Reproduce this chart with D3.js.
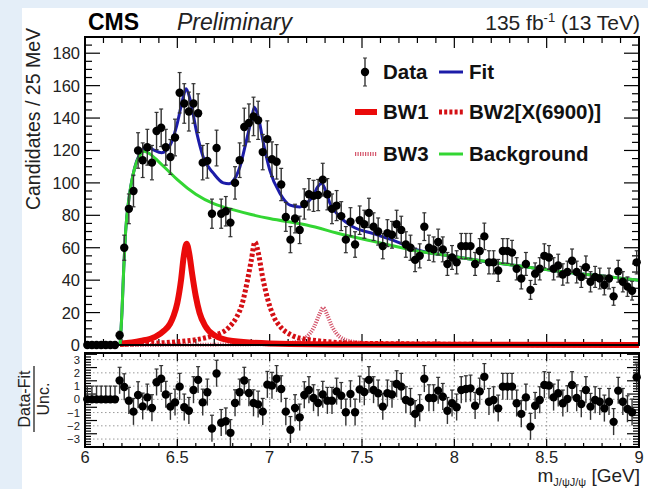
<!DOCTYPE html>
<html>
<head>
<meta charset="utf-8">
<script src="https://cdn.jsdelivr.net/npm/d3@7"></script>
<style>
  html, body { margin: 0; padding: 0; background: #e4eef8; }
  svg { display: block; font-family: "Liberation Sans", Arial, sans-serif; }
</style>
</head>
<body>
<svg id="chart" width="648" height="489"></svg>
<script>
// bin centres, 25 MeV bins from 6 to 9 GeV
const binCenters = d3.range(120).map(k => 6.0125 + 0.025 * k);

// candidates per bin
const counts = [
    0, 0, 0, 0, 0, 0, 0, 6, 60, 84,
    95, 120, 114, 122, 112.5, 132, 134, 122, 116, 128,
    155.6, 149, 144, 149, 143, 112.5, 113.6, 81, 121.5, 81,
    82.5, 75.5, 100, 114, 134.5, 137, 141, 138.6, 119, 127,
    114.6, 113, 99, 79, 65, 78, 71, 87, 93, 92,
    92.5, 102, 93, 84, 86, 79.5, 65, 76, 62, 77,
    74.5, 81.5, 73, 70, 61, 69, 68, 74.5, 71, 62,
    60, 52.5, 55, 73, 60, 59, 63.5, 59, 50, 54,
    51, 61, 61, 61, 50, 58, 67, 51, 51, 46,
    58, 58, 57, 47, 41, 50, 34, 44, 47, 55,
    54, 47, 49, 43.5, 45, 52, 45, 42, 48, 39,
    42, 41, 37, 41, 30, 45.5, 39, 36, 33.5, 51
];

// (data - fit) / unc. per bin
const pulls = [
    0, 0, 0, 0, 0, 0, 0, 1.42, 0.93, -0.1,
    -0.93, 0.33, -0.53, 0.15, -0.65, 1.29, 1.55, 0.36, -0.55, -0.23,
    0.96, -0.6, -0.86, 0.71, 1.47, -0.23, 0.53, -2.2, 1.95, -1.77,
    -1.65, -2.53, -0.28, 0.53, 1.42, 0.48, -0.28, -0.38, -0.93, 1.11,
    1.04, 1.55, 0.78, -0.93, -2.3, -0.65, -1.36, 0.33, 0.71, 0.1,
    -0.28, 0.36, -0.1, -0.1, 0.6, 0.27, -0.98, 0.4, -0.98, 0.75,
    0.55, 1.47, 0.71, 0.46, -0.55, 0.46, 0.36, 1.16, 0.96, -0.05,
    -0.18, -1.1, -0.65, 1.55, 0.1, 0.1, 0.66, 0.2, -0.86, -0.3,
    -0.6, 0.71, 0.78, 0.83, -0.48, 0.6, 1.7, -0.18, -0.05, -0.68,
    0.96, 0.96, 0.96, -0.3, -1.1, 0.15, -2.06, -0.48, -0.05, 1.09,
    1.04, 0.15, 0.46, -0.3, 0.03, 1.09, 0.1, -0.35, 0.71, -0.55,
    -0.05, -0.18, -0.68, -0.18, -1.7, 0.66, -0.18, -0.73, -0.98, 1.67
];

// curves: [mass, value]
const bkgCurve = [
    [6.19, 0], [6.2, 20], [6.21, 48], [6.22, 70], [6.24, 92], [6.26, 105], [6.28, 113],
    [6.3, 117.5], [6.32, 119.5], [6.35, 118], [6.4, 113], [6.45, 107.5], [6.5, 102],
    [6.6, 93], [6.7, 87], [6.8, 83.5], [6.9, 80.5], [7.0, 78], [7.2, 74], [7.4, 68],
    [7.6, 63], [7.8, 58], [8.0, 54.5], [8.2, 51], [8.4, 48], [8.6, 45], [8.8, 42.5], [9.0, 40]
];
const fitCurve = [
    [6.19, 0], [6.2, 20], [6.21, 48], [6.22, 70], [6.24, 92], [6.26, 105], [6.28, 113.5],
    [6.3, 118.5], [6.334, 122.5], [6.37, 120.4], [6.415, 118.6], [6.46, 123], [6.496, 135],
    [6.529, 151.5], [6.547, 158], [6.569, 151.5], [6.605, 131], [6.64, 116], [6.695, 106],
    [6.749, 100], [6.78, 99.5], [6.803, 101.4], [6.839, 110], [6.875, 126.6], [6.903, 140],
    [6.917, 146.7], [6.938, 141], [6.966, 124.6], [7.0, 108], [7.056, 93.5], [7.11, 86.3],
    [7.164, 85.2], [7.2, 87.3], [7.24, 93], [7.26, 97.5], [7.282, 99.8], [7.3, 96],
    [7.327, 87.3], [7.381, 79], [7.453, 72.8], [7.561, 68.7], [7.67, 64.5], [7.8, 58.6],
    [8.0, 54.6], [8.2, 51], [8.4, 48], [8.6, 45], [8.8, 42.5], [9.0, 40]
];
const bw1Curve = [
    [6.19, 0.8], [6.3, 2.5], [6.38, 5], [6.43, 9], [6.46, 13], [6.48, 18], [6.5, 26],
    [6.52, 40], [6.535, 55], [6.55, 62.5], [6.565, 56], [6.58, 44], [6.6, 30], [6.62, 20],
    [6.65, 12], [6.7, 6], [6.8, 2.5], [7.0, 1], [7.5, 0.3], [9.0, 0]
];
const bw2Curve = [
    [6.19, 0.5], [6.5, 2], [6.7, 6], [6.78, 11], [6.82, 17], [6.85, 25], [6.88, 40],
    [6.9, 52], [6.92, 63.5], [6.94, 56], [6.96, 43], [6.99, 28], [7.02, 18], [7.06, 11],
    [7.12, 6], [7.2, 3.5], [7.5, 1], [9.0, 0]
];
const bw3Curve = [
    [6.19, 0], [7.0, 0.5], [7.15, 2], [7.2, 5], [7.24, 11], [7.27, 19], [7.29, 23],
    [7.31, 19], [7.34, 11], [7.38, 5], [7.45, 2], [7.6, 0.5], [9.0, 0]
];

const xTicks = [6, 6.5, 7, 7.5, 8, 8.5, 9];
const yTopTicks = [0, 20, 40, 60, 80, 100, 120, 140, 160, 180];
const yBotTicks = [-3, -2, -1, 0, 1, 2, 3];

const svg = d3.select("#chart");
const font = "'Liberation Sans', Arial, sans-serif";

// white page area
svg.append("rect").attr("x", 22).attr("y", 8).attr("width", 626).attr("height", 481).attr("fill", "#fff");

const x = d3.scaleLinear().domain([6, 9]).range([85, 639]);
const yTop = d3.scaleLinear().domain([0, 190]).range([345, 37]);
const yBot = d3.scaleLinear().domain([-3.6, 3.5]).range([447, 353]);

// ---------- ticks (ROOT style, inside the frame) ----------
function xTicksFor(y0, y1, majLen, minLen) {
    const g = svg.append("g").attr("stroke", "#000").attr("stroke-width", 1.2);
    d3.range(6, 9.0001, 0.1).forEach(v => {
        const major = Math.abs(v * 2 - Math.round(v * 2)) < 1e-6;
        const len = major ? majLen : minLen;
        g.append("line").attr("x1", x(v)).attr("x2", x(v)).attr("y1", y0).attr("y2", y0 - len);
        g.append("line").attr("x1", x(v)).attr("x2", x(v)).attr("y1", y1).attr("y2", y1 + len);
    });
}
function yTicksFor(scale, lo, hi, step, majEvery, majLen, minLen) {
    const g = svg.append("g").attr("stroke", "#000").attr("stroke-width", 1.2);
    for (let i = 0; lo + i * step <= hi + 1e-9; i++) {
        const v = lo + i * step;
        const major = i % majEvery === 0;
        const len = major ? majLen : minLen;
        g.append("line").attr("x1", 85).attr("x2", 85 + len).attr("y1", scale(v)).attr("y2", scale(v));
        g.append("line").attr("x1", 639).attr("x2", 639 - len).attr("y1", scale(v)).attr("y2", scale(v));
    }
}

// lower panel grid
const grid = svg.append("g").attr("stroke", "#999").attr("stroke-width", 1).attr("stroke-dasharray", "1.5,2.5");
yBotTicks.forEach(v => grid.append("line").attr("x1", 85).attr("x2", 639).attr("y1", yBot(v)).attr("y2", yBot(v)));
xTicks.slice(1, -1).forEach(v => grid.append("line").attr("x1", x(v)).attr("x2", x(v)).attr("y1", 353).attr("y2", 447));

xTicksFor(345, 37, 11, 6);
yTicksFor(yTop, 0, 190, 5, 4, 15, 7);
xTicksFor(447, 353, 8, 4);
yTicksFor(yBot, -3.6, 3.5, 0.2, 5, 12, 6);

// ---------- curves ----------
const line = d3.line().x(d => x(d[0])).y(d => yTop(d[1])).curve(d3.curveMonotoneX);

const plot = svg.append("g");
plot.append("path").attr("d", line(bw3Curve)).attr("fill", "none")
    .attr("stroke", "#d4566c").attr("stroke-width", 4).attr("stroke-dasharray", "1.2,1.3");
plot.append("path").attr("d", line(bw2Curve)).attr("fill", "none")
    .attr("stroke", "#d40f14").attr("stroke-width", 5).attr("stroke-dasharray", "3,2.2");
plot.append("path").attr("d", line(bw1Curve)).attr("fill", "none")
    .attr("stroke", "#ea0a0a").attr("stroke-width", 6);
plot.append("path").attr("d", line(fitCurve)).attr("fill", "none")
    .attr("stroke", "#1c1ca8").attr("stroke-width", 3);
plot.append("path").attr("d", line(bkgCurve)).attr("fill", "none")
    .attr("stroke", "#33d633").attr("stroke-width", 3);

// ---------- data points (upper) ----------
const pts = plot.append("g");
binCenters.forEach((m, i) => {
    const v = counts[i];
    const e = v > 0 ? Math.sqrt(v) : 1.1;
    const lo = Math.max(0, v - e);
    pts.append("line").attr("x1", x(m)).attr("x2", x(m))
        .attr("y1", yTop(lo)).attr("y2", yTop(v + e))
        .attr("stroke", "#333").attr("stroke-width", 1.4);
    pts.append("line").attr("x1", x(m) - 2).attr("x2", x(m) + 2)
        .attr("y1", yTop(v + e)).attr("y2", yTop(v + e))
        .attr("stroke", "#333").attr("stroke-width", 1.2);
    pts.append("line").attr("x1", x(m) - 2).attr("x2", x(m) + 2)
        .attr("y1", yTop(lo)).attr("y2", yTop(lo))
        .attr("stroke", "#333").attr("stroke-width", 1.2);
    pts.append("circle").attr("cx", x(m)).attr("cy", yTop(v)).attr("r", 4.2).attr("fill", "#000");
});

// ---------- pulls (lower) ----------
const pp = svg.append("g");
binCenters.forEach((m, i) => {
    const v = pulls[i];
    const lo = i < 7 ? v : v - 1;
    pp.append("line").attr("x1", x(m)).attr("x2", x(m))
        .attr("y1", yBot(lo)).attr("y2", yBot(v + 1))
        .attr("stroke", "#333").attr("stroke-width", 1.4);
    pp.append("line").attr("x1", x(m) - 2).attr("x2", x(m) + 2)
        .attr("y1", yBot(v + 1)).attr("y2", yBot(v + 1))
        .attr("stroke", "#333").attr("stroke-width", 1.2);
    pp.append("circle").attr("cx", x(m)).attr("cy", yBot(v)).attr("r", 4.2).attr("fill", "#000");
});

// ---------- frames ----------
svg.append("rect").attr("x", 85).attr("y", 37).attr("width", 554).attr("height", 308)
    .attr("fill", "none").attr("stroke", "#000").attr("stroke-width", 2);
svg.append("rect").attr("x", 85).attr("y", 353).attr("width", 554).attr("height", 94)
    .attr("fill", "none").attr("stroke", "#000").attr("stroke-width", 2);

// ---------- tick labels ----------
const lab = svg.append("g").attr("font-family", font).attr("fill", "#222");
yTopTicks.forEach(v => lab.append("text").attr("x", 80).attr("y", yTop(v)).attr("dy", "0.36em")
    .attr("text-anchor", "end").attr("font-size", 16.5).text(v));
yBotTicks.forEach(v => lab.append("text").attr("x", 80).attr("y", yBot(v)).attr("dy", "0.36em")
    .attr("text-anchor", "end").attr("font-size", 11.3).text(v < 0 ? "\u2212" + Math.abs(v) : v));
xTicks.forEach(v => lab.append("text").attr("x", x(v)).attr("y", 463)
    .attr("text-anchor", "middle").attr("font-size", 16.5).text(v));

// axis titles
lab.append("text").attr("transform", "translate(40,28) rotate(-90)").attr("text-anchor", "end")
    .attr("font-size", 19.5).text("Candidates / 25 MeV");
lab.append("text").attr("transform", "translate(30,399) rotate(-90)").attr("text-anchor", "middle")
    .attr("font-size", 16).text("Data-Fit");
lab.append("line").attr("x1", 34).attr("x2", 34).attr("y1", 366).attr("y2", 432).attr("stroke", "#222").attr("stroke-width", 1.3);
lab.append("text").attr("transform", "translate(49,399) rotate(-90)").attr("text-anchor", "middle")
    .attr("font-size", 16).text("Unc.");

const xt = lab.append("text").attr("x", 640).attr("y", 482).attr("text-anchor", "end").attr("font-size", 19);
xt.append("tspan").text("m");
xt.append("tspan").attr("font-size", 11).attr("dy", 3.5).text("J/\u03c8J/\u03c8");
xt.append("tspan").attr("dy", -3.5).text(" [GeV]");

// header
lab.append("text").attr("x", 88).attr("y", 30).attr("font-size", 23).attr("font-weight", "bold").attr("fill", "#000").text("CMS");
lab.append("text").attr("x", 177).attr("y", 30).attr("font-size", 23).attr("font-style", "italic").text("Preliminary");
const lumi = lab.append("text").attr("x", 640).attr("y", 30).attr("text-anchor", "end").attr("font-size", 21);
lumi.append("tspan").text("135 fb");
lumi.append("tspan").attr("font-size", 13).attr("dy", -8).text("-1");
lumi.append("tspan").attr("dy", 8).text(" (13 TeV)");

// ---------- legend ----------
const leg = svg.append("g").attr("font-family", font).attr("font-weight", "bold").attr("font-size", 20.5).attr("fill", "#111");
leg.append("line").attr("x1", 365).attr("x2", 365).attr("y1", 58).attr("y2", 86).attr("stroke", "#333").attr("stroke-width", 1.4);
leg.append("line").attr("x1", 363).attr("x2", 367).attr("y1", 58).attr("y2", 58).attr("stroke", "#333");
leg.append("line").attr("x1", 363).attr("x2", 367).attr("y1", 86).attr("y2", 86).attr("stroke", "#333");
leg.append("circle").attr("cx", 365).attr("cy", 72).attr("r", 4.2).attr("fill", "#000");
leg.append("text").attr("x", 383).attr("y", 79).text("Data");
leg.append("line").attr("x1", 439).attr("x2", 463).attr("y1", 72).attr("y2", 72).attr("stroke", "#1c1ca8").attr("stroke-width", 3);
leg.append("text").attr("x", 469).attr("y", 79).text("Fit");

leg.append("line").attr("x1", 355).attr("x2", 377).attr("y1", 112).attr("y2", 112).attr("stroke", "#ea0a0a").attr("stroke-width", 6);
leg.append("text").attr("x", 383).attr("y", 119).text("BW1");
leg.append("line").attr("x1", 439).attr("x2", 463).attr("y1", 112).attr("y2", 112).attr("stroke", "#d40f14")
    .attr("stroke-width", 5).attr("stroke-dasharray", "3,2.2");
leg.append("text").attr("x", 469).attr("y", 119).text("BW2[X(6900)]");

leg.append("line").attr("x1", 355).attr("x2", 377).attr("y1", 154).attr("y2", 154).attr("stroke", "#d4566c")
    .attr("stroke-width", 4).attr("stroke-dasharray", "1.2,1.3");
leg.append("text").attr("x", 383).attr("y", 161).text("BW3");
leg.append("line").attr("x1", 439).attr("x2", 463).attr("y1", 154).attr("y2", 154).attr("stroke", "#33d633").attr("stroke-width", 3);
leg.append("text").attr("x", 469).attr("y", 161).text("Background");
</script>
</body>
</html>
